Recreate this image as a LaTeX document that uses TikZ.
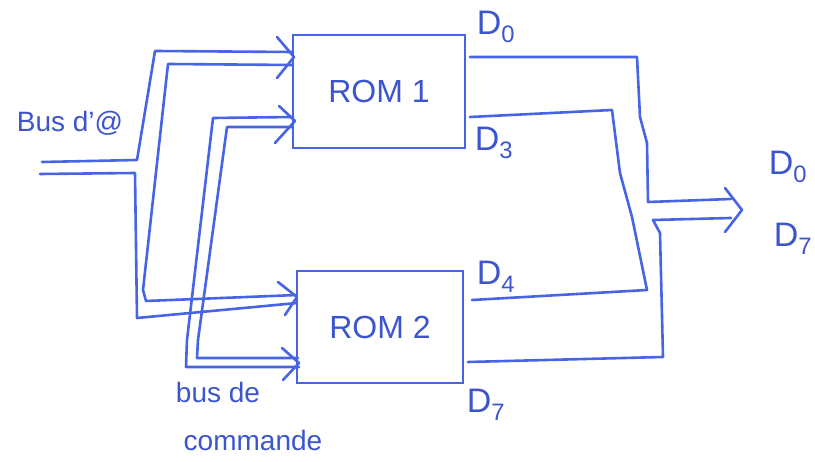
\documentclass[tikz,border=0pt]{standalone}
\usepackage{fontspec}
\setmainfont{Liberation Sans}
\usetikzlibrary{calc}
\definecolor{pen}{RGB}{70,100,228}
\definecolor{ink}{RGB}{60,85,205}
\newcommand{\dsub}[1]{D\textsubscript{#1}}
\begin{document}
\begin{tikzpicture}[x=1pt,y=-1pt,
  wire/.style={draw=pen,line width=2.6pt,line join=round,line cap=round},
  rombox/.style={draw=pen,line width=2.6pt,inner sep=0pt,text=ink,font=\fontsize{32}{36}\selectfont},
  lbl/.style={text=ink,inner sep=0pt,font=\fontsize{28}{32}\selectfont},
  dlbl/.style={text=ink,inner sep=0pt,font=\fontsize{34}{38}\selectfont}]
\useasboundingbox (0,0) rectangle (815,462);
% boxes
\node[rombox,minimum width=172pt,minimum height=113pt] (rom1) at (379,91.5) {ROM 1};
\node[rombox,minimum width=166pt,minimum height=112pt] (rom2) at (380,327) {ROM 2};
% labels
\node[lbl] (busa) at (70,123) {Bus d{\char"27}@};
\node[lbl] (busc1) at (218,392) {bus de};
\node[lbl] (busc2) at (253,440) {commande};
\node[dlbl] (d0a) at (496,27) {\dsub{0}};
\node[dlbl] (d3) at (494,143) {\dsub{3}};
\node[dlbl] (d4) at (496,277) {\dsub{4}};
\node[dlbl] (d7a) at (486,405) {\dsub{7}};
\node[dlbl] (d0b) at (788,167) {\dsub{0}};
\node[dlbl] (d7b) at (793,239) {\dsub{7}};
% arrow tips (chevrons)
\coordinate (t1) at (294,57);
\coordinate (t2) at (295,121);
\coordinate (t3) at (297,297);
\coordinate (t4) at (299,363);
\coordinate (t5) at (742,210);
% address bus
\draw[wire] (42,162) -- (137,160) -- (155,51) -- (293,52);
\draw[wire] (293,65) -- (168,64) -- (143,290) -- (146,301) -- (297,295);
\draw[wire] (40,174) -- (135,173) -- (137,318) -- (297,303);
% control bus
\draw[wire] (293,117) -- (213,118) -- (187,340) -- (186,367) -- (299,367);
\draw[wire] (292,127) -- (227,127) -- (198,340) -- (197,358) -- (298,358);
% outputs
\draw[wire] (470,57) -- (637,57) -- (640,117) -- (647,143) -- (648,202) -- (731,199);
\draw[wire] (470,117) -- (612,110) -- (620,173) -- (632,217) -- (647,290) -- (472,300);
\draw[wire] (731,218) -- (653,220) -- (660,233) -- (663,357) -- (468,362);
% chevrons
\draw[wire] ($(t1)+(-17,-20)$) -- (t1) -- ($(t1)+(-17,21)$);
\draw[wire] ($(t2)+(-16,-15)$) -- (t2) -- ($(t2)+(-20,22)$);
\draw[wire] ($(t3)+(-19,-15)$) -- (t3) -- ($(t3)+(-12,18)$);
\draw[wire] ($(t4)+(-17,-15)$) -- (t4) -- ($(t4)+(-16,17)$);
\draw[wire] ($(t5)+(-17,-22)$) -- (t5) -- ($(t5)+(-17,22)$);
\end{tikzpicture}
\end{document}
